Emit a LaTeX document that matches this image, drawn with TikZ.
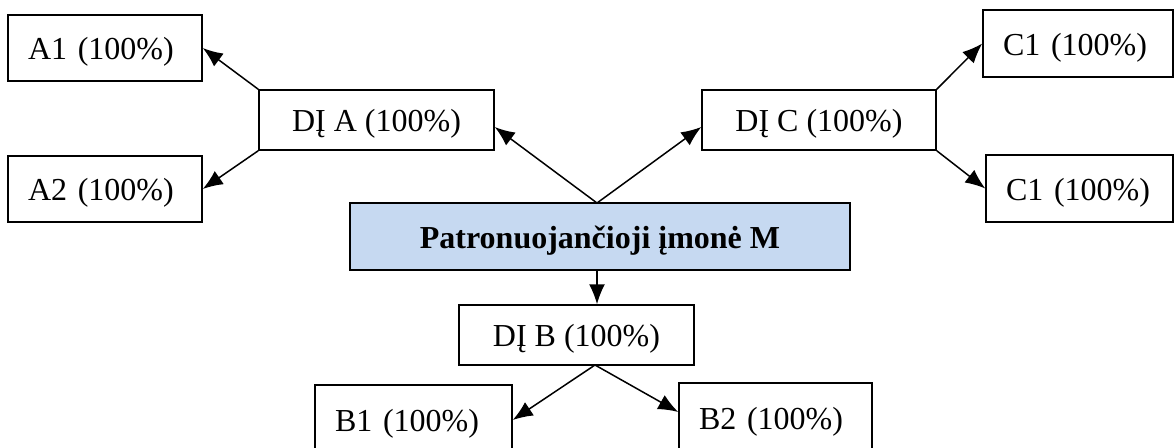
\documentclass[tikz,border=0pt]{standalone}
\usepackage{fontspec}
\setmainfont{Liberation Serif}
\usetikzlibrary{arrows.meta}
\definecolor{mblue}{RGB}{198,217,241}
\begin{document}
\begin{tikzpicture}[x=1pt,y=-1pt,
  box/.style={draw=black,line width=1.5pt,fill=white,inner sep=0pt,text height=29pt,text depth=6pt,font=\fontsize{32}{38}\selectfont},
  lbox/.style={box,align=left,text width=#1,inner xsep=20pt},
  cbox/.style={box,align=center,minimum width=#1,minimum height=60pt},
  arr/.style={line width=1.5pt,-{Latex[length=20pt,width=16pt]}}]
\fill[white] (0,0) rectangle (1175,447);
\useasboundingbox (0,0) rectangle (1175,447);
% nodes
\node[lbox=154pt,minimum height=66pt] (A1) at (105,48) {A1 (100\%)};
\node[lbox=154pt,minimum height=66pt] (A2) at (105,189) {A2 (100\%)};
\node[lbox=150pt,minimum height=67pt] (C1a) at (1078,43.5) {C1 (100\%)};
\node[lbox=147pt,minimum height=67pt] (C1b) at (1079.5,188.5) {C1 (100\%)};
\node[lbox=157pt,minimum height=70pt] (B1) at (413.5,420) {B1 (100\%)};
\node[lbox=153pt,minimum height=70pt] (B2) at (775.5,418) {B2 (100\%)};
\node[cbox=235pt] (dia) at (376.5,120) {DĮ A (100\%)};
\node[cbox=234pt] (dic) at (819,120) {DĮ C (100\%)};
\node[cbox=235pt] (dib) at (576.5,335) {DĮ B (100\%)};
\node[box,fill=mblue,minimum width=500pt,minimum height=67pt,font=\fontsize{32}{38}\selectfont\bfseries] (M) at (600,236.5) {Patronuojančioji įmonė M};
% connector points
\coordinate (mtop) at (597,203);
\coordinate (mbot) at (597,270);
\coordinate (bbot) at (595,365);
% connectors
\draw[arr] (mtop) -- ([yshift=-7pt]dia.east);
\draw[arr] (mtop) -- ([yshift=-7pt]dic.west);
\draw[arr] (dia.north west) -- (A1.east);
\draw[arr] (dia.south west) -- (A2.east);
\draw[arr] (dic.north east) -- (C1a.west);
\draw[arr] (dic.south east) -- (C1b.west);
\draw[arr] (mbot) -- (mbot |- dib.north);
\draw[arr] (bbot) -- (B1.east);
\draw[arr] (bbot) -- ([yshift=6pt]B2.west);
\end{tikzpicture}
\end{document}
